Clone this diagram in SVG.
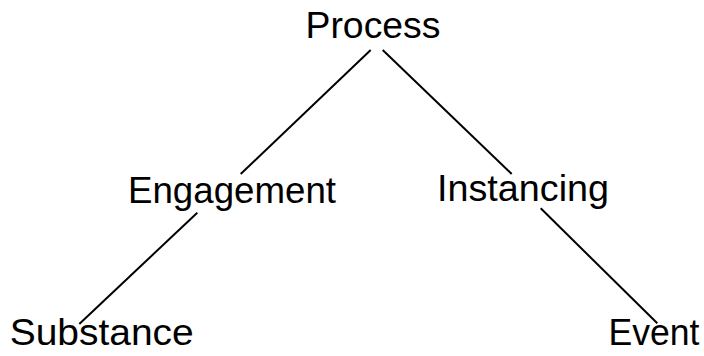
<svg xmlns="http://www.w3.org/2000/svg" width="704" height="356" viewBox="0 0 704 356">
<style>
text{font-family:"Liberation Sans",Arial,Helvetica,sans-serif;font-size:36px;fill:#000}
line{stroke:#000;stroke-width:2}
</style>
<rect width="704" height="356" fill="#fff"/>
<g id="connectors">
<line x1="370.7" y1="50" x2="240.7" y2="174"/>
<line x1="197.3" y1="212.7" x2="79.3" y2="324"/>
<line x1="382.7" y1="50" x2="511.7" y2="174"/>
<line x1="540.7" y1="208.3" x2="657.3" y2="323.3"/>
</g>
<g id="process"><text x="305.5" y="38.3" textLength="135" lengthAdjust="spacingAndGlyphs">Process</text></g>
<g id="engagement"><text x="128" y="202.7" textLength="208" lengthAdjust="spacingAndGlyphs">Engagement</text></g>
<g id="instancing"><text x="437" y="200.7" textLength="172" lengthAdjust="spacingAndGlyphs">Instancing</text></g>
<g id="substance"><text x="9.7" y="345" textLength="184" lengthAdjust="spacingAndGlyphs">Substance</text></g>
<g id="event"><text x="608.5" y="345" textLength="91" lengthAdjust="spacingAndGlyphs">Event</text></g>
</svg>
